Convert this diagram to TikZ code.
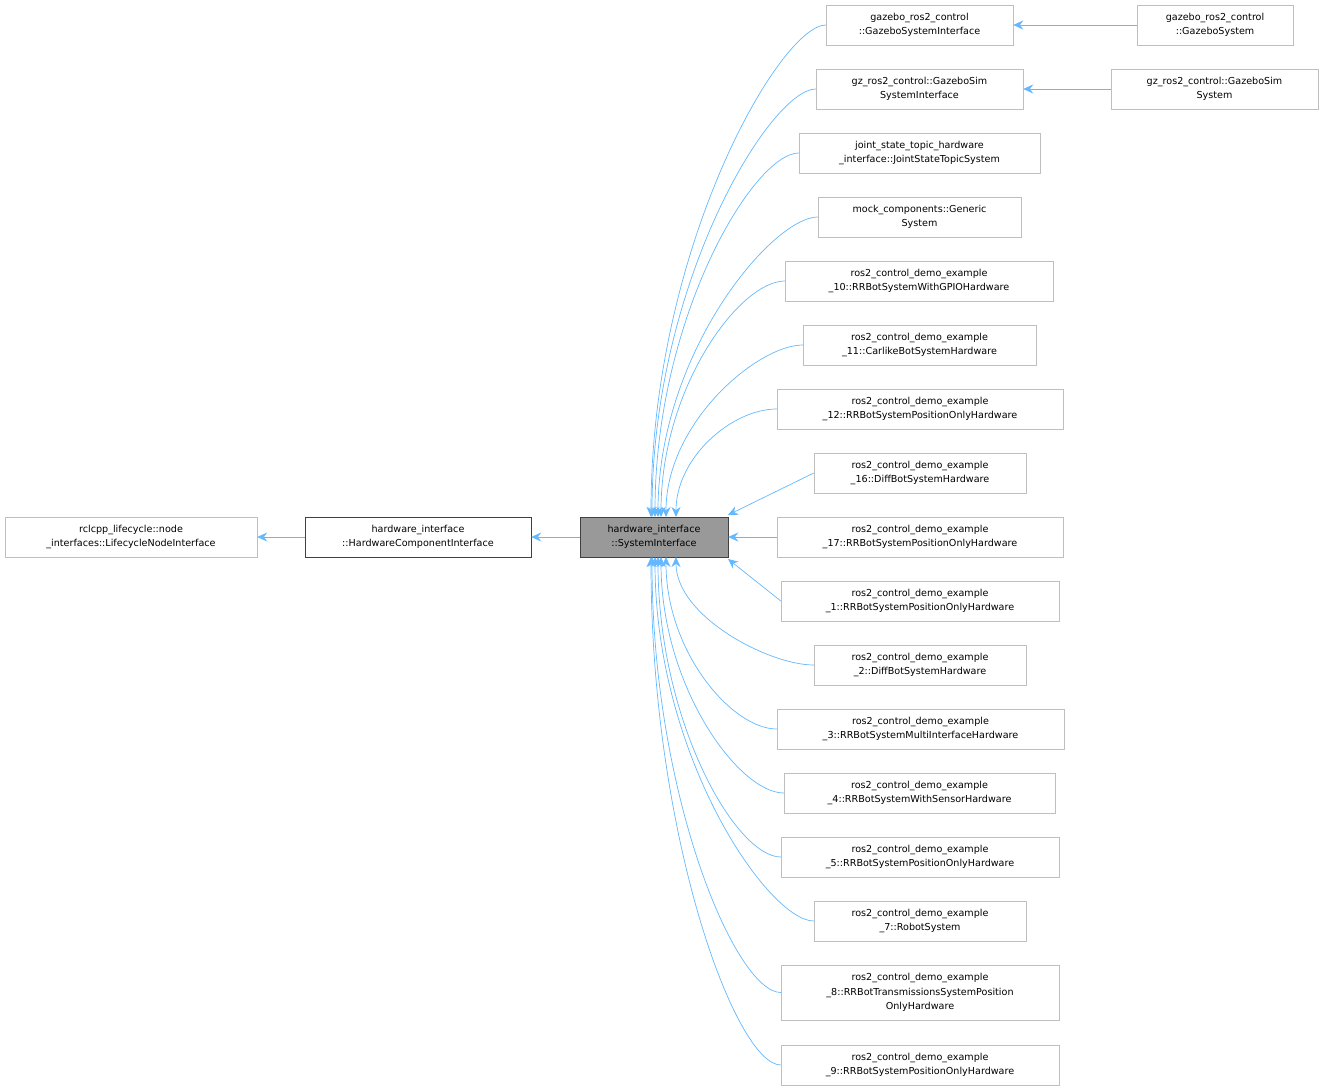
\documentclass[tikz,border=0pt]{standalone}
\usepackage{fontspec}
\setmainfont{DejaVu Sans}
\usetikzlibrary{arrows.meta,calc}
\definecolor{edgec}{HTML}{63B8FF}
\definecolor{boxc}{HTML}{BFBFBF}
\begin{document}
\begin{tikzpicture}[x=1pt,y=-1pt,
  box/.style={draw=boxc,fill=white,minimum height=40pt,inner sep=0pt,align=center,font=\fontsize{9.6}{14.5}\selectfont},
  edge/.style={draw=edgec,line width=0.7pt,-{Stealth[length=10pt,width=9pt,fill=edgec]}}]
\useasboundingbox (0,0) rectangle (1324,1091);
\node[box,minimum width=252pt] (rc) at (131,537) {rclcpp\_lifecycle::node\\\_interfaces::LifecycleNodeInterface};
\node[box,draw=black!75,minimum width=226pt] (hc) at (418,537) {hardware\_interface\\::HardwareComponentInterface};
\node[box,draw=black!75,fill=black!40,minimum width=148pt] (si) at (654,537) {hardware\_interface\\::SystemInterface};
\node[box,minimum width=187pt] (c1) at (919.5,25) {gazebo\_ros2\_control\\::GazeboSystemInterface};
\node[box,minimum width=207pt] (c2) at (919.5,89) {gz\_ros2\_control::GazeboSim\\SystemInterface};
\node[box,minimum width=241pt] (c3) at (919.5,153) {joint\_state\_topic\_hardware\\\_interface::JointStateTopicSystem};
\node[box,minimum width=203pt] (c4) at (919.5,217) {mock\_components::Generic\\System};
\node[box,minimum width=268pt] (c5) at (919,281) {ros2\_control\_demo\_example\\\_10::RRBotSystemWithGPIOHardware};
\node[box,minimum width=233pt] (c6) at (919.5,345) {ros2\_control\_demo\_example\\\_11::CarlikeBotSystemHardware};
\node[box,minimum width=286pt] (c7) at (920,409) {ros2\_control\_demo\_example\\\_12::RRBotSystemPositionOnlyHardware};
\node[box,minimum width=212pt] (c8) at (920,473) {ros2\_control\_demo\_example\\\_16::DiffBotSystemHardware};
\node[box,minimum width=286pt] (c9) at (920,537) {ros2\_control\_demo\_example\\\_17::RRBotSystemPositionOnlyHardware};
\node[box,minimum width=278pt] (c10) at (920,601) {ros2\_control\_demo\_example\\\_1::RRBotSystemPositionOnlyHardware};
\node[box,minimum width=212pt] (c11) at (920,665) {ros2\_control\_demo\_example\\\_2::DiffBotSystemHardware};
\node[box,minimum width=287pt] (c12) at (920.5,729) {ros2\_control\_demo\_example\\\_3::RRBotSystemMultiInterfaceHardware};
\node[box,minimum width=271pt] (c13) at (919.5,793) {ros2\_control\_demo\_example\\\_4::RRBotSystemWithSensorHardware};
\node[box,minimum width=278pt] (c14) at (920,857) {ros2\_control\_demo\_example\\\_5::RRBotSystemPositionOnlyHardware};
\node[box,minimum width=212pt] (c15) at (920,921) {ros2\_control\_demo\_example\\\_7::RobotSystem};
\node[box,minimum width=278pt,minimum height=55pt] (c16) at (920,992.5) {ros2\_control\_demo\_example\\\_8::RRBotTransmissionsSystemPosition\\OnlyHardware};
\node[box,minimum width=278pt] (c17) at (920,1065) {ros2\_control\_demo\_example\\\_9::RRBotSystemPositionOnlyHardware};
\node[box,minimum width=156pt] (g1) at (1215,25) {gazebo\_ros2\_control\\::GazeboSystem};
\node[box,minimum width=207pt] (g2) at (1214.5,89) {gz\_ros2\_control::GazeboSim\\System};
\draw[edge] (hc) -- (rc);
\draw[edge] (si) -- (hc);
\draw[edge] (g1) -- (c1);
\draw[edge] (g2) -- (c2);
\draw[edge] (c9) -- (si);
\foreach \i/\yc/\xe/\ye in {1/25/651/517,2/89/652/517,3/153/655/517,4/217/658/517,5/281/661/517,6/345/666/517,7/409/676/517,
  11/665/676/557,12/729/666/557,13/793/661/557,14/857/658/557,15/921/655/557,16/992/652/557,17/1065/651/557}{
  \draw[edge] (c\i.west) .. controls ($(c\i.west)+(-45,0)$) and (\xe,{\ye+(\yc-\ye)*0.55}) .. (\xe,\ye);
}
\draw[edge] (c8.west) -- (728,515);
\draw[edge] (c10.west) -- (728,559);
\end{tikzpicture}
\end{document}
